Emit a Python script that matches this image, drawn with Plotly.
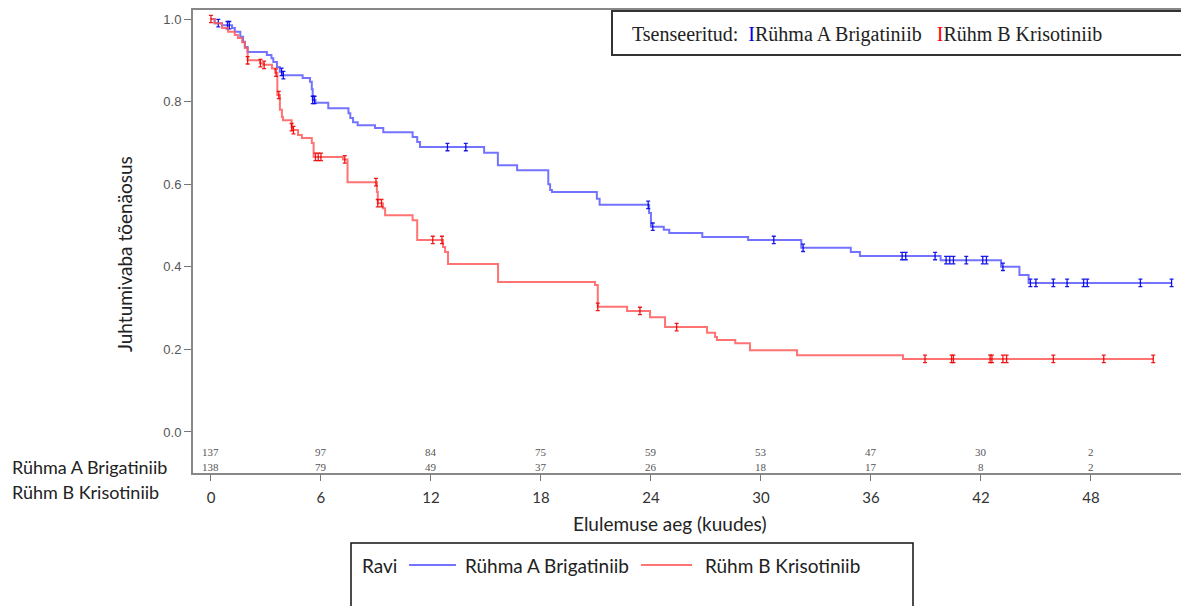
import plotly.graph_objects as go
import numpy as np

# ---------------- data ----------------
blue_t = [0, 0.2, 0.6, 1.15, 1.3, 1.6, 1.75, 1.85, 2.0, 3.05, 3.3, 3.4, 3.6, 3.75, 3.9,
          5.0, 5.4, 5.5, 5.55, 5.7, 6.4, 7.5, 7.6, 7.75, 8.0, 8.95, 9.4, 11.0, 11.25, 11.4,
          14.9, 15.65, 16.7, 18.4, 18.5, 18.6, 21.05, 21.2, 23.9, 24.0, 24.7, 25.0, 26.8,
          29.3, 32.2, 34.9, 35.4, 39.8, 43.1, 44.1, 44.6]
blue_s = [1.0, 0.99, 0.985, 0.978, 0.969, 0.957, 0.945, 0.932, 0.92, 0.913, 0.905, 0.896,
          0.884, 0.872, 0.864, 0.857, 0.848, 0.83, 0.804, 0.797, 0.784, 0.772, 0.760, 0.75,
          0.743, 0.736, 0.726, 0.714, 0.702, 0.69, 0.676, 0.646, 0.634, 0.60, 0.586, 0.581,
          0.565, 0.55, 0.53, 0.497, 0.49, 0.482, 0.472, 0.465, 0.446, 0.436, 0.426, 0.416,
          0.40, 0.38, 0.361]
blue_end = 52.4
blue_cens = [0.4, 0.9, 1.0, 3.85, 3.95, 5.55, 5.65, 12.9, 13.9, 23.85, 24.1, 30.7, 32.3,
             37.7, 37.9, 39.5, 40.1, 40.3, 40.5, 41.2, 42.1, 42.3, 43.2, 44.7, 45.0, 45.95,
             46.7, 47.6, 47.8, 50.7, 52.4]

red_t = [0, 0.2, 0.6, 0.93, 1.3, 1.47, 1.7, 1.85, 2.0, 2.67, 2.85, 3.33, 3.5, 3.62, 3.76,
         3.87, 3.93, 4.4, 4.47, 4.75, 4.96, 5.5, 5.6, 7.2, 7.45, 9.05, 9.1, 9.38, 9.5, 11.0,
         11.25, 12.66, 12.77, 12.93, 15.66, 20.95, 21.1, 22.7, 23.95, 24.77, 27.06, 27.5,
         27.6, 28.6, 29.4, 31.97, 37.75]
red_s = [1.0, 0.99, 0.978, 0.969, 0.961, 0.954, 0.944, 0.93, 0.90, 0.893, 0.889, 0.88,
         0.87, 0.816, 0.78, 0.763, 0.755, 0.738, 0.731, 0.719, 0.712, 0.70, 0.666, 0.66,
         0.605, 0.581, 0.554, 0.542, 0.525, 0.513, 0.465, 0.448, 0.436, 0.407, 0.363, 0.356,
         0.303, 0.293, 0.278, 0.254, 0.24, 0.23, 0.223, 0.215, 0.198, 0.186, 0.177]
red_end = 51.4
red_cens = [0.0, 2.0, 2.7, 2.9, 3.55, 3.7, 4.4, 4.5, 5.7, 5.85, 6.0, 7.3, 9.0, 9.1, 9.3,
            12.1, 12.6, 21.1, 23.4, 25.4, 38.95, 40.4, 40.5, 42.5, 42.6, 43.2, 43.4, 45.95,
            48.7, 51.4]

risk_times = [0, 6, 12, 18, 24, 30, 36, 42, 48]
risk_a = [137, 97, 84, 75, 59, 53, 47, 30, 2]
risk_b = [138, 79, 49, 37, 26, 18, 17, 8, 2]

name_a = "Rühma A Brigatiniib"
name_b = "Rühm B Krisotiniib"
x_title = "Elulemuse aeg (kuudes)"
y_title = "Juhtumivaba tõenäosus"

BLUE_LINE = "rgba(90,90,255,0.85)"
RED_LINE = "rgba(255,90,90,0.85)"
BLUE_MARK = "rgba(0,0,230,0.9)"
RED_MARK = "rgba(240,0,0,0.9)"

# page body has an 8px margin; the figure is shrunk so it ends at the window edge
OFF = 8
W, H = 1189 - OFF, 606 - OFF
L, R, T, B = 193 - OFF, 0, 10 - OFF, 606 - 473
XR = [-0.98, 53.35]
YR = [-0.0993, 1.0218]


def px(x):
    return (x - OFF - L) / (W - L - R)


def py(y):
    return (H - B - (y - OFF)) / (H - B - T)


def step_val(ts, ss, t):
    idx = np.searchsorted(np.array(ts), t, side="right") - 1
    return ss[max(idx, 0)]


fig = go.Figure()

for ts, ss, tend, cens, lc, mc in [
    (blue_t, blue_s, blue_end, blue_cens, BLUE_LINE, BLUE_MARK),
    (red_t, red_s, red_end, red_cens, RED_LINE, RED_MARK),
]:
    fig.add_trace(go.Scatter(
        x=list(ts) + [tend], y=list(ss) + [ss[-1]], mode="lines",
        line=dict(color=lc, width=2, shape="hv"), showlegend=False, hoverinfo="skip"))
    cy = [step_val(ts, ss, c) for c in cens]
    fig.add_trace(go.Scatter(
        x=cens, y=cy, mode="markers", marker=dict(size=1, color=mc),
        error_y=dict(type="constant", value=0.009, color=mc, thickness=1.3, width=2),
        showlegend=False, hoverinfo="skip"))

ann = []
# risk table
risk_font = dict(family="Liberation Serif", size=11, color="#555")
for t, a, b in zip(risk_times, risk_a, risk_b):
    ann.append(dict(x=t, y=-0.048, xref="x", yref="y", text=str(a), showarrow=False,
                    yanchor="middle", font=risk_font))
    ann.append(dict(x=t, y=-0.085, xref="x", yref="y", text=str(b), showarrow=False,
                    yanchor="middle", font=risk_font))

label_font = dict(family="Lato", size=18, color="#222")
legend_font = dict(family="Lato", size=19, color="#222")
title_font = dict(family="Lato", size=19, color="#222")

# axis titles
ann.append(dict(x=px(670), y=py(523), xref="paper", yref="paper", xanchor="center",
                yanchor="middle", text=x_title, showarrow=False, font=title_font))
ann.append(dict(x=px(124), y=py(254), xref="paper", yref="paper", xanchor="center",
                yanchor="middle", text=y_title, textangle=-90, showarrow=False,
                font=title_font))

# left labels
ann.append(dict(x=px(10), y=py(467), xref="paper", yref="paper", xanchor="left",
                yanchor="middle", text=name_a, showarrow=False, font=label_font))
ann.append(dict(x=px(10), y=py(492), xref="paper", yref="paper", xanchor="left",
                yanchor="middle", text=name_b, showarrow=False, font=label_font))

# top legend (censored)
ann.append(dict(x=px(630), y=py(35), xref="paper", yref="paper", xanchor="left",
                yanchor="middle",
                text=("Tsenseeritud:&nbsp;&nbsp;<span style='color:#0000ee'>I</span>" + name_a +
                      "&nbsp;&nbsp;&nbsp;<span style='color:#ff0000'>I</span>" + name_b),
                showarrow=False, font=dict(family="Liberation Serif", size=20, color="#222")))

# bottom legend
ann.append(dict(x=px(360), y=py(565), xref="paper", yref="paper", xanchor="left",
                yanchor="middle", text="Ravi", showarrow=False, font=legend_font))
ann.append(dict(x=px(463), y=py(565), xref="paper", yref="paper", xanchor="left",
                yanchor="middle", text=name_a, showarrow=False, font=legend_font))
ann.append(dict(x=px(703), y=py(565), xref="paper", yref="paper", xanchor="left",
                yanchor="middle", text=name_b, showarrow=False, font=legend_font))

shapes = [
    dict(type="rect", xref="paper", yref="paper", x0=px(612), x1=px(1192), y0=py(55), y1=py(11),
         line=dict(color="#333", width=2), fillcolor="white", layer="above"),
    dict(type="rect", xref="paper", yref="paper", x0=px(351), x1=px(913), y0=py(620), y1=py(543),
         line=dict(color="#111", width=1.5), fillcolor="white"),
    dict(type="line", xref="paper", yref="paper", x0=px(409), x1=px(456), y0=py(565), y1=py(565),
         line=dict(color=BLUE_LINE, width=2)),
    dict(type="line", xref="paper", yref="paper", x0=px(641), x1=px(692), y0=py(565), y1=py(565),
         line=dict(color=RED_LINE, width=2)),
]

fig.update_layout(
    width=W, height=H, margin=dict(l=L, r=R, t=T, b=B, pad=0, autoexpand=False),
    paper_bgcolor="white", plot_bgcolor="white",
    annotations=ann, shapes=shapes,
    xaxis=dict(range=XR, tickvals=risk_times, ticks="outside", ticklen=6, tickcolor="#777",
               showline=True, linecolor="#888", linewidth=2, mirror=True, showgrid=False,
               zeroline=False, automargin=False, ticklabelstandoff=4,
               tickfont=dict(family="Lato", size=15, color="#333")),
    yaxis=dict(range=YR, tickvals=[0, 0.2, 0.4, 0.6, 0.8, 1.0], tickformat=".1f",
               ticks="outside", ticklen=7, tickcolor="#777", showline=True, linecolor="#888",
               linewidth=2, showgrid=False, zeroline=False, automargin=False,
               tickfont=dict(family="Liberation Sans", size=13, color="#555")),
)

fig.write_html("out.html")
